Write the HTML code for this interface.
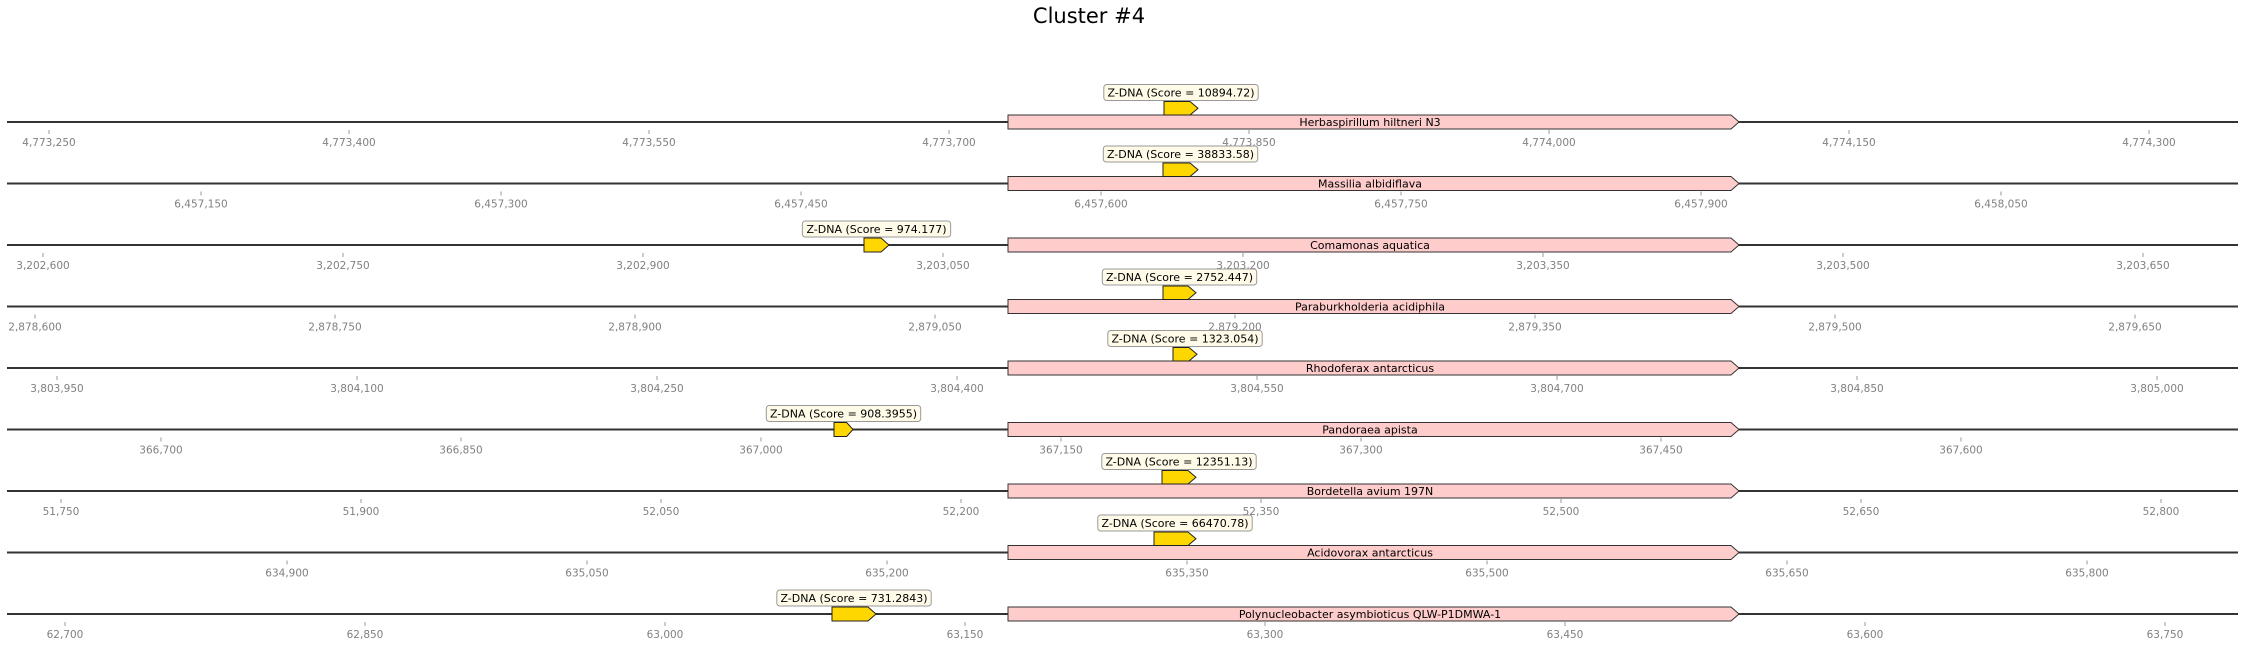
<!DOCTYPE html>
<html><head><meta charset="utf-8"><style>
html,body{margin:0;padding:0;background:#fff;}
svg{display:block;}
text{font-family:"DejaVu Sans","Liberation Sans",sans-serif;}
.t{font-size:10.5px;fill:#808080;text-anchor:middle;}
.g{font-size:11px;fill:#000;text-anchor:middle;}
.z{font-size:11px;fill:#000;text-anchor:middle;}
</style></head><body>
<svg width="2246" height="646" viewBox="0 0 2246 646" xmlns="http://www.w3.org/2000/svg">
<text x="1089" y="23" style="font-size:21px;fill:#000;text-anchor:middle;">Cluster #4</text>
<g id="rows"></g>
</svg>
<script>
var rows=[
 {n:"Herbaspirillum hiltneri N3",t0:49,l0:4773250,k:8,z:[1164,1198],s:"Z-DNA (Score = 10894.72)",up:1},
 {n:"Massilia albidiflava",t0:201,l0:6457150,k:7,z:[1163,1198],s:"Z-DNA (Score = 38833.58)",up:1},
 {n:"Comamonas aquatica",t0:43,l0:3202600,k:8,z:[864,889],s:"Z-DNA (Score = 974.177)",up:0},
 {n:"Paraburkholderia acidiphila",t0:35,l0:2878600,k:8,z:[1163,1196],s:"Z-DNA (Score = 2752.447)",up:1},
 {n:"Rhodoferax antarcticus",t0:57,l0:3803950,k:8,z:[1173,1197],s:"Z-DNA (Score = 1323.054)",up:1},
 {n:"Pandoraea apista",t0:161,l0:366700,k:7,z:[834,853],s:"Z-DNA (Score = 908.3955)",up:0},
 {n:"Bordetella avium 197N",t0:61,l0:51750,k:8,z:[1162,1196],s:"Z-DNA (Score = 12351.13)",up:1},
 {n:"Acidovorax antarcticus",t0:287,l0:634900,k:7,z:[1154,1196],s:"Z-DNA (Score = 66470.78)",up:1},
 {n:"Polynucleobacter asymbioticus QLW-P1DMWA-1",t0:65,l0:62700,k:8,z:[832,876],s:"Z-DNA (Score = 731.2843)",up:0}
];
function fmt(v){return v.toString().replace(/\B(?=(\d{3})+(?!\d))/g,",");}
var h="";
rows.forEach(function(r,i){
 var y=122+61.5*i;
 h+='<line x1="7" y1="'+y+'" x2="2238" y2="'+y+'" stroke="#333" stroke-width="2"/>';
 for(var j=0;j<r.k;j++){var x=r.t0+300*j;
  h+='<line x1="'+x+'" y1="'+(y+8)+'" x2="'+x+'" y2="'+(y+12)+'" stroke="#999" stroke-width="1"/>';
  h+='<text class="t" x="'+x+'" y="'+(y+24)+'">'+fmt(r.l0+150*j)+'</text>';}
 var gt=y-7,gb=y+7;
 h+='<polygon points="1008,'+gt+' 1731,'+gt+' 1739,'+y+' 1731,'+gb+' 1008,'+gb+'" fill="#ffcccc" stroke="#333" stroke-width="1"/>';
 h+='<text class="g" x="1370" y="'+(y+4)+'">'+r.n+'</text>';
 var zt,zb; if(r.up){zb=gt;zt=gt-13.5;}else{zt=y-7;zb=y+7;}
 var zm=(zt+zb)/2, a=r.z[0], b=r.z[1], tip=Math.min(8,(b-a)/3);
 h+='<polygon points="'+a+','+zt+' '+(b-tip)+','+zt+' '+b+','+zm+' '+(b-tip)+','+zb+' '+a+','+zb+'" fill="#ffd700" stroke="#222" stroke-width="1"/>';
 var cx=(a+b)/2, w=r.s.length*6.1+8, by=zt-17;
 h+='<rect x="'+(cx-w/2)+'" y="'+by+'" width="'+w+'" height="16" rx="3" fill="#fffbe8" stroke="#999" stroke-width="1"/>';
 h+='<text class="z" x="'+cx+'" y="'+(by+12)+'">'+r.s+'</text>';
});
document.getElementById("rows").innerHTML=h;
</script>
</body></html>
